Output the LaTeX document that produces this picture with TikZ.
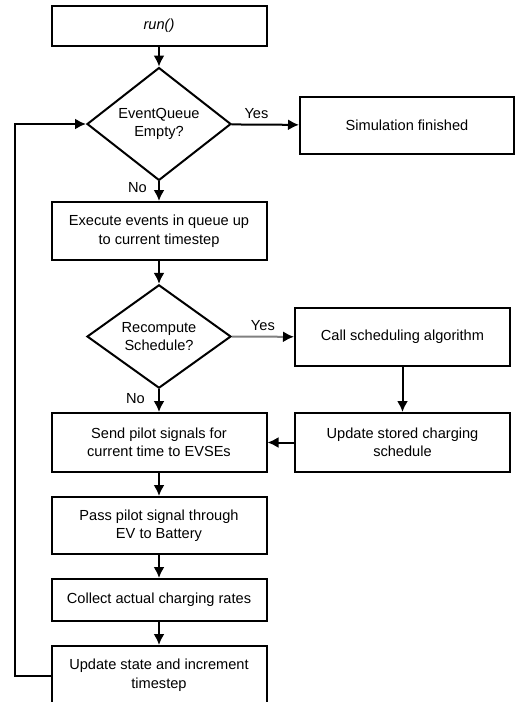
\documentclass[tikz,border=0pt]{standalone}
\usepackage{fontspec}
\setmainfont{Liberation Sans}
\usetikzlibrary{shapes.geometric, arrows.meta}

\begin{document}
\begin{tikzpicture}[x=1pt, y=-1pt,
    box/.style={draw, line width=2pt, minimum width=215pt, align=center,
      inner sep=0pt, font=\fontsize{14.6}{18.5}\selectfont},
    test/.style={draw, diamond, line width=2pt, minimum width=144pt,
      minimum height=102pt, inner sep=0pt, align=center,
      font=\fontsize{14.6}{18.5}\selectfont},
    flow/.style={-{Latex[length=11pt,width=11pt]}, line width=2pt},
    lbl/.style={font=\fontsize{14.6}{17}\selectfont}]
  \useasboundingbox (0,0) rectangle (516,702);

  \node[box, minimum height=40pt] (run) at (159,26) {\itshape run()};
  \node[test] (empty) at (159,124) {EventQueue\\Empty?};
  \node[box, minimum width=214pt, minimum height=57pt] (done) at (407,125.5) {Simulation finished};
  \node[box, minimum height=58pt] (exec) at (159,231) {Execute events in queue up\\to current timestep};
  \node[test, minimum height=103pt] (recomp) at (159,336.5) {Recompute\\Schedule?};
  \node[box, minimum height=58pt] (call) at (402.5,337) {Call scheduling algorithm};
  \node[box, minimum height=59pt] (store) at (402.5,442.5) {Update stored charging\\schedule};
  \node[box, minimum height=59pt] (send) at (159,442.5) {Send pilot signals for\\current time to EVSEs};
  \node[box, minimum height=57pt] (pass) at (159,525.5) {Pass pilot signal through\\EV to Battery};
  \node[box, minimum height=42pt] (collect) at (159,600) {Collect actual charging rates};
  \node[box, minimum height=58pt] (update) at (159,675) {Update state and increment\\timestep};

  \draw[flow] (run) -- (empty);
  \draw[flow] (empty) -- (done) node[lbl, pos=0.37, above=2pt] {Yes};
  \draw[flow] (empty) -- (exec) node[lbl, pos=0.3, left=8pt] {No};
  \draw[flow] (exec) -- (recomp);
  \draw[flow, draw=gray, -{Latex[length=11pt,width=11pt,color=black]}] (recomp) -- (call)
    node[lbl, midway, above=2pt] {Yes};
  \draw[flow] (recomp) -- (send) node[lbl, pos=0.4, left=10pt] {No};
  \draw[flow] (call) -- (store);
  \draw[flow] (store) -- (send);
  \draw[flow] (send) -- (pass);
  \draw[flow] (pass) -- (collect);
  \draw[flow] (collect) -- (update);
  \coordinate (back) at (15,676);
  \draw[flow] (update.west |- back) -- (back) |- (empty.west);
\end{tikzpicture}
\end{document}
